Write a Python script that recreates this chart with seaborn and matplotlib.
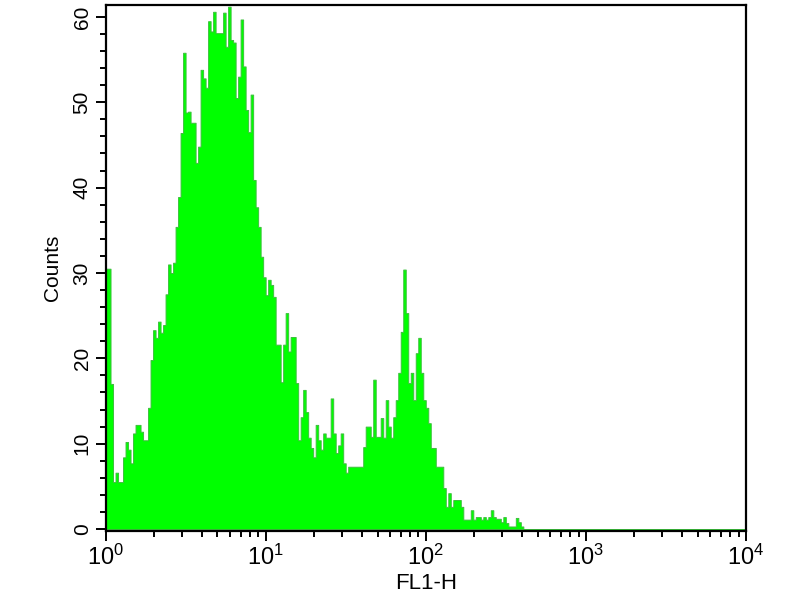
import numpy as np
import pandas as pd
import matplotlib
matplotlib.use("Agg")
import matplotlib.pyplot as plt
import seaborn as sns
from matplotlib.ticker import LogLocator, MultipleLocator, NullFormatter

# 256 log channels across 4 decades (10^0 .. 10^4)
N_CHANNELS = 256
DECADES = 4

# counts read channel by channel from the picture (channels 0..166)
counts = [
    30.5, 30.5, 17, 5.5, 6.6, 5.5, 5.5, 8.4, 10.2, 9.3,
    7.7, 11.2, 12.2, 12.2, 11.4, 10.4, 10.4, 14.2, 19.8, 23.3,
    22.4, 24.3, 23, 23.9, 27.5, 31, 30, 31.2, 35.4, 38.9,
    46.4, 55.8, 48.8, 48.9, 47.6, 47.6, 42.9, 44.8, 53.8, 52.8,
    51.7, 59.5, 58.3, 60.6, 58.1, 58.1, 58.1, 60.5, 56.5, 61.2,
    57.3, 57, 50.5, 53, 59.7, 54.2, 49.1, 46.5, 50.9, 40.9,
    37.7, 35.4, 31.9, 29.5, 27.4, 29.2, 28.6, 27.2, 21.6, 21.6,
    17.2, 21.6, 25.3, 20.8, 22.5, 22.5, 17.1, 10.4, 13.1, 16.3,
    13.7, 10.7, 9.5, 8.4, 12.2, 10.4, 9.3, 11.2, 10.7, 10.7,
    15.3, 11.2, 8.9, 9.8, 11.2, 7.7, 6.6, 7.3, 7.3, 7.3,
    7.3, 7.3, 7.3, 9.6, 12, 12, 10.8, 17.5, 10.8, 10.8,
    13, 10.7, 15.1, 12, 10.7, 13.1, 15.1, 18.3, 23.1, 30.4,
    25.3, 17.1, 18.3, 15.1, 20.6, 22.4, 18.3, 15.1, 14.2, 12.4,
    9.5, 9.5, 7.3, 7.3, 7.3, 4.8, 2.6, 4.2, 2.6, 3.4,
    3.4, 3.4, 2.6, 1.1, 1.1, 1.1, 2.2, 1.1, 1.4, 1.4,
    1.1, 1.4, 1.1, 1.4, 2.2, 1.4, 1.2, 1.2, 0.8, 1.4,
    0.7, 0.3, 0.3, 0.3, 1.3, 0.8, 0.3,
]
# empty channels 167..255
tail_counts = [
    0, 0, 0, 0, 0, 0, 0, 0, 0, 0, 0, 0, 0, 0, 0, 0, 0, 0, 0, 0,
    0, 0, 0, 0, 0, 0, 0, 0, 0, 0, 0, 0, 0, 0, 0, 0, 0, 0, 0, 0,
    0, 0, 0, 0, 0, 0, 0, 0, 0, 0, 0, 0, 0, 0, 0, 0, 0, 0, 0, 0,
    0, 0, 0, 0, 0, 0, 0, 0, 0, 0, 0, 0, 0, 0, 0, 0, 0, 0, 0, 0,
    0, 0, 0, 0, 0, 0, 0, 0, 0,
]
all_counts = counts + tail_counts

log_edges = np.linspace(0, DECADES, N_CHANNELS + 1)
centers = 10 ** ((log_edges[:-1] + log_edges[1:]) / 2)
df = pd.DataFrame({"FL1-H": centers, "Counts": all_counts})

sns.set_style("ticks")
plt.rcParams["font.family"] = ["Liberation Sans", "DejaVu Sans"]
plt.rcParams["mathtext.fontset"] = "custom"
plt.rcParams["mathtext.rm"] = "Liberation Sans"
plt.rcParams["text.color"] = "black"
plt.rcParams["axes.labelcolor"] = "black"
plt.rcParams["xtick.color"] = "black"
plt.rcParams["ytick.color"] = "black"

fig = plt.figure(figsize=(8, 6), dpi=100)
ax = fig.add_axes([0.1319, 0.115, 0.8006, 0.8767])

sns.histplot(data=df, x="FL1-H", weights="Counts",
             bins=N_CHANNELS, binrange=(0, DECADES),
             log_scale=True, element="step", fill=True,
             color="#00ff00", alpha=1, edgecolor="#3cc03c", linewidth=0.7,
             ax=ax)

ax.set_xlim(1, 1e4)
ax.set_ylim(-0.23, 61.4)

ax.xaxis.set_major_locator(LogLocator(base=10, numticks=10))
ax.xaxis.set_minor_locator(LogLocator(base=10, subs=np.arange(2, 10), numticks=50))
ax.xaxis.set_minor_formatter(NullFormatter())
ax.yaxis.set_major_locator(MultipleLocator(10))
ax.yaxis.set_minor_locator(MultipleLocator(2))

ax.tick_params(which="major", direction="out", length=7, width=1.4,
               color="black", labelcolor="black")
ax.tick_params(which="minor", direction="out", length=4, width=1.4, color="black")
ax.tick_params(axis="x", labelsize=17, pad=3)
ax.tick_params(axis="y", labelsize=15, labelrotation=90, pad=3)
for tl in ax.get_yticklabels():
    tl.set_va("center")

for sp in ax.spines.values():
    sp.set_visible(True)
    sp.set_linewidth(1.6)
    sp.set_color("black")

ax.set_xlabel("FL1-H", fontsize=16, labelpad=2)
ax.set_ylabel("Counts", fontsize=15, labelpad=8)

fig.savefig("out.png", dpi=100)
